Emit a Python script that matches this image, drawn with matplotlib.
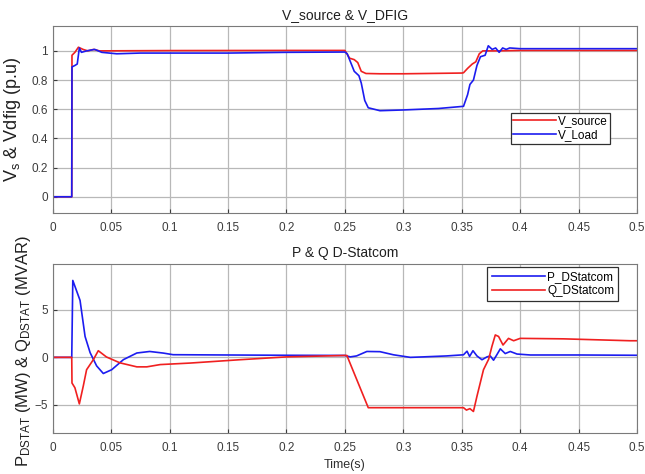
import numpy as np
import matplotlib
matplotlib.use('Agg')
import matplotlib.pyplot as plt

plt.rcParams['font.family'] = ['Liberation Sans', 'DejaVu Sans']
plt.rcParams['mathtext.fontset'] = 'custom'
plt.rcParams['mathtext.rm'] = 'Liberation Sans'
plt.rcParams['mathtext.it'] = 'Liberation Sans'

# voltage at source bus (p.u)
t_vs = [0, 0.0163, 0.0165, 0.019, 0.022, 0.026, 0.03, 0.035, 0.04, 0.1, 0.2, 0.25,
        0.251, 0.254, 0.258, 0.261, 0.264, 0.268, 0.28, 0.3, 0.35, 0.3515, 0.355,
        0.359, 0.362, 0.365, 0.368, 0.38, 0.4, 0.45, 0.5]
v_source = [0, 0, 0.97, 0.99, 1.025, 1.01, 1.0, 1.01, 1.0, 1.002, 1.003, 1.003,
            0.99, 0.95, 0.94, 0.92, 0.86, 0.845, 0.843, 0.843, 0.848, 0.85, 0.88,
            0.91, 0.925, 0.98, 1.0, 1.0, 1.003, 1.003, 1.003]

# voltage at load / DFIG bus (p.u)
t_vl = [0, 0.0163, 0.0165, 0.019, 0.021, 0.0228, 0.0246, 0.029, 0.036, 0.042, 0.0548,
        0.075, 0.15, 0.2, 0.25, 0.252, 0.255, 0.258, 0.262, 0.264, 0.267, 0.27,
        0.275, 0.28, 0.3, 0.33, 0.3515, 0.355, 0.357, 0.36, 0.363, 0.366, 0.37,
        0.3727, 0.376, 0.379, 0.382, 0.385, 0.388, 0.391, 0.4, 0.45, 0.5]
v_load = [0, 0, 0.89, 0.90, 0.91, 1.02, 0.99, 1.0, 1.01, 0.99, 0.98,
          0.985, 0.985, 0.99, 0.992, 0.98, 0.92, 0.86, 0.83, 0.78, 0.66, 0.61,
          0.60, 0.59, 0.595, 0.605, 0.62, 0.70, 0.77, 0.80, 0.90, 0.96, 0.97,
          1.035, 1.01, 1.02, 0.99, 1.02, 1.01, 1.02, 1.015, 1.015, 1.015]

# D-STATCOM active power (MW)
t_p = [0, 0.0163, 0.0172, 0.0234, 0.0277, 0.032, 0.0376, 0.0433, 0.0505, 0.0605,
       0.072, 0.083, 0.0947, 0.103, 0.15, 0.2, 0.25, 0.2546, 0.26, 0.2688, 0.28,
       0.2916, 0.306, 0.317, 0.337, 0.3515, 0.3545, 0.3567, 0.3596, 0.363, 0.3673,
       0.3716, 0.3744, 0.3772, 0.38, 0.383, 0.3872, 0.3915, 0.3973, 0.4087, 0.45, 0.5]
p_dstat = [0, 0, 8.1, 6.0, 2.2, 0.5, -0.9, -1.7, -1.3, -0.24,
           0.46, 0.62, 0.45, 0.28, 0.25, 0.22, 0.2, 0.05, 0.15, 0.62, 0.6,
           0.27, 0.0, 0.05, 0.15, 0.27, 0.65, 0.1, 0.7, 0.15, -0.25,
           0.05, 0.15, -0.3, 0.27, 0.9, 0.4, 0.62, 0.35, 0.25, 0.25, 0.22]

# D-STATCOM reactive power (MVAR)
t_q = [0, 0.0163, 0.0165, 0.019, 0.0228, 0.0262, 0.029, 0.0348, 0.039, 0.046, 0.0576,
       0.072, 0.0805, 0.092, 0.1176, 0.16, 0.2, 0.25, 0.2517, 0.27, 0.3, 0.3515,
       0.354, 0.357, 0.36, 0.363, 0.3686, 0.373, 0.3758, 0.3787, 0.3815, 0.3853,
       0.39, 0.3944, 0.4, 0.437, 0.494, 0.5]
q_dstat = [0, 0, -2.7, -3.2, -4.9, -3.0, -1.3, -0.24, 0.7, 0.04, -0.58,
           -1.0, -1.0, -0.76, -0.6, -0.25, 0.05, 0.2, 0.2, -5.3, -5.3, -5.3,
           -5.55, -5.4, -5.7, -4.1, -1.3, -0.2, 1.15, 2.36, 2.2, 1.3,
           2.0, 1.75, 2.0, 1.95, 1.75, 1.75]

red = '#f02020'
blue = '#1c1cf0'
grid_c = '#b8b8b8'
spine_c = '#7a7a7a'
tick_c = '#3c3c3c'

fig = plt.figure(figsize=(6.45, 4.74), dpi=100)
ax1 = fig.add_axes([0.0817, 0.551, 0.906, 0.394])
ax2 = fig.add_axes([0.0817, 0.0858, 0.906, 0.3566])

for ax in (ax1, ax2):
    ax.set_xlim(0, 0.5)
    ax.set_xticks(np.arange(0, 0.51, 0.05))
    ax.set_xticklabels(['0', '0.05', '0.1', '0.15', '0.2', '0.25', '0.3',
                        '0.35', '0.4', '0.45', '0.5'])
    ax.grid(True, color=grid_c, linewidth=0.9)
    ax.set_axisbelow(True)
    ax.tick_params(labelsize=8.5, colors=tick_c, length=3, direction='in')
    ax.tick_params(axis='x', pad=6.5)
    for s in ax.spines.values():
        s.set_color(spine_c)
        s.set_linewidth(0.8)

ax1.plot(t_vs, v_source, color=red, lw=1.2, label='V_source')
ax1.plot(t_vl, v_load, color=blue, lw=1.2, label='V_Load')
ax1.set_ylim(-0.11, 1.17)
ax1.set_yticks([0, 0.2, 0.4, 0.6, 0.8, 1])
ax1.set_yticklabels(['0', '0.2', '0.4', '0.6', '0.8', '1'])
ax1.set_title('V_source & V_DFIG', fontsize=10, color='#202020', pad=5)
ax1.set_ylabel(r'V$_\mathrm{s}$ & Vdfig (p.u)', fontsize=13, color='#202020')
ax1.yaxis.set_label_coords(-0.051, 0.5)
leg1 = ax1.legend(loc='upper right', bbox_to_anchor=(0.954, 0.534), borderaxespad=0,
                  fontsize=8.5, handlelength=3.6, fancybox=False, framealpha=1,
                  edgecolor='#303030', borderpad=0.2, labelspacing=0.15,
                  handletextpad=0.2)
leg1.get_frame().set_linewidth(0.9)

ax2.plot(t_p, p_dstat, color=blue, lw=1.2, label='P_DStatcom')
ax2.plot(t_q, q_dstat, color=red, lw=1.2, label='Q_DStatcom')
ax2.set_ylim(-8, 9.8)
ax2.set_yticks([-5, 0, 5])
ax2.set_title('P & Q D-Statcom', fontsize=10, color='#202020', pad=5)
ax2.set_xlabel('Time(s)', fontsize=9, color='#303030', labelpad=3)
ax2.set_ylabel(r'P$_\mathrm{DSTAT}$ (MW) & Q$_\mathrm{DSTAT}$ (MVAR)',
               fontsize=12, color='#202020')
ax2.yaxis.set_label_coords(-0.033, 0.485)
leg2 = ax2.legend(loc='upper right', bbox_to_anchor=(0.968, 0.986), borderaxespad=0,
                  fontsize=8.5, handlelength=4.5, fancybox=False, framealpha=1,
                  edgecolor='#303030', borderpad=0.35, labelspacing=0.2,
                  handletextpad=0.2)
leg2.get_frame().set_linewidth(0.9)

fig.savefig('out.png', dpi=100)
